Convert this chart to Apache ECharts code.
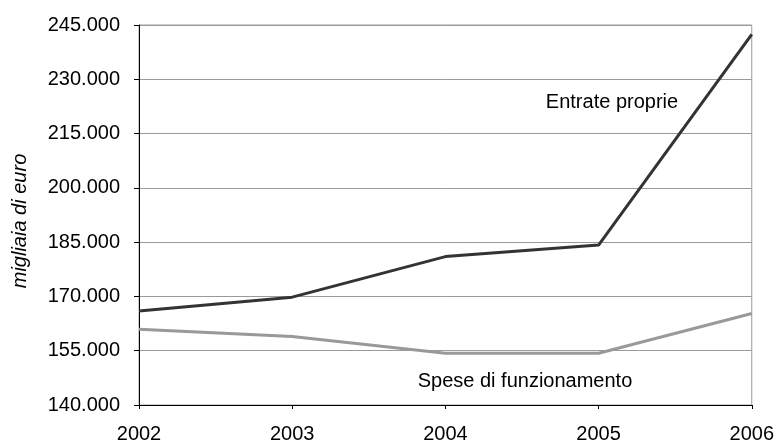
<!DOCTYPE html>
<html>
<head>
<meta charset="utf-8">
<script src="https://cdn.jsdelivr.net/npm/echarts@6/dist/echarts.min.js"></script>
<style>
  html, body { margin: 0; padding: 0; background: #fff; }
  #chart { width: 777px; height: 445px; }
</style>
</head>
<body>
<div id="chart"></div>
<script>
// Anni
const years = ['2002', '2003', '2004', '2005', '2006'];
// Valori in migliaia di euro
const entrateProprie = [166000, 169800, 181000, 184200, 242400];
const speseFunzionamento = [160900, 158900, 154300, 154300, 165300];
// Scala asse verticale
const yMin = 140000;
const yMax = 245000;
const yStep = 15000;

const FONT = "'Liberation Sans', Arial, sans-serif";

function formatThousands(v) {
  const hi = Math.floor(v / 1000);
  const lo = String(Math.round(v % 1000)).padStart(3, '0');
  return hi + '.' + lo;
}

const chart = echarts.init(document.getElementById('chart'), null, { renderer: 'canvas' });

chart.setOption({
  animation: false,
  backgroundColor: '#ffffff',
  textStyle: { fontFamily: FONT },
  grid: {
    left: 139, right: 25, top: 25, bottom: 40,
    show: true, borderColor: '#9a9a9a', borderWidth: 1
  },
  xAxis: {
    type: 'category',
    data: years,
    boundaryGap: false,
    axisLine: { lineStyle: { color: '#000', width: 1 } },
    axisTick: { show: true, length: 4, lineStyle: { color: '#000' } },
    axisLabel: { color: '#000', fontSize: 20, fontFamily: FONT, margin: 19 },
    splitLine: { show: false }
  },
  yAxis: {
    type: 'value',
    min: yMin, max: yMax, interval: yStep,
    axisLine: { show: true, lineStyle: { color: '#000', width: 1 } },
    axisTick: { show: true, length: 5, lineStyle: { color: '#000' } },
    axisLabel: { color: '#000', fontSize: 20, fontFamily: FONT, margin: 19, formatter: formatThousands },
    splitLine: { show: true, lineStyle: { color: '#9a9a9a', width: 1 } }
  },
  series: [
    {
      name: 'Entrate proprie',
      type: 'line',
      data: entrateProprie,
      symbol: 'none',
      lineStyle: { color: '#333333', width: 3 },
      z: 3
    },
    {
      name: 'Spese di funzionamento',
      type: 'line',
      data: speseFunzionamento,
      symbol: 'none',
      lineStyle: { color: '#999999', width: 3 },
      z: 2
    }
  ],
  graphic: [
    {
      type: 'text',
      x: 20, y: 221,
      rotation: Math.PI / 2,
      style: {
        text: 'migliaia di euro',
        fontFamily: FONT, fontSize: 20, fontStyle: 'italic',
        fill: '#000', align: 'center', verticalAlign: 'middle'
      }
    },
    {
      type: 'text',
      x: 612, y: 102,
      style: {
        text: 'Entrate proprie',
        fontFamily: FONT, fontSize: 20,
        fill: '#000', align: 'center', verticalAlign: 'middle'
      }
    },
    {
      type: 'text',
      x: 525, y: 381,
      style: {
        text: 'Spese di funzionamento',
        fontFamily: FONT, fontSize: 20,
        fill: '#000', align: 'center', verticalAlign: 'middle'
      }
    }
  ]
});
</script>
</body>
</html>
